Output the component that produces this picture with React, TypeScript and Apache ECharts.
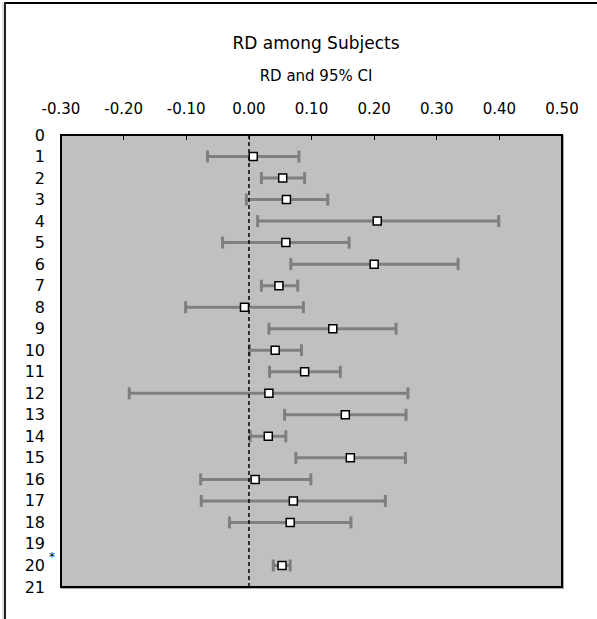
import React, { useEffect, useRef } from "react";
import * as echarts from "echarts";

const rows = [1, 2, 3, 4, 5, 6, 7, 8, 9, 10, 11, 12, 13, 14, 15, 16, 17, 18, 20];
const rd = [0.007, 0.054, 0.06, 0.205, 0.059, 0.2, 0.048, -0.007, 0.134, 0.042, 0.089, 0.032, 0.154, 0.031, 0.162, 0.01, 0.071, 0.066, 0.053];
const ciLow = [-0.066, 0.02, -0.004, 0.014, -0.042, 0.067, 0.02, -0.101, 0.032, 0.001, 0.033, -0.191, 0.057, 0.002, 0.075, -0.077, -0.076, -0.031, 0.039];
const ciHigh = [0.08, 0.089, 0.126, 0.399, 0.16, 0.334, 0.078, 0.087, 0.235, 0.084, 0.146, 0.254, 0.251, 0.059, 0.25, 0.099, 0.218, 0.163, 0.066];
const xTicks = { min: -0.3, max: 0.5, interval: 0.1 };
const yRange = { min: 0, max: 21 };
const titleText = "RD among Subjects";
const subtitleText = "RD and 95% CI";

const FONT = "DejaVu Sans";

export default function App() {
  const ref = useRef<HTMLDivElement>(null);
  useEffect(() => {
    if (!ref.current) return;
    const chart = echarts.init(ref.current, undefined, { renderer: "svg" });
    const ciData = rows.map((r, i) => [r, ciLow[i], ciHigh[i]]);
    const ptData = rows.map((r, i) => [rd[i], r]);
    chart.setOption({
      animation: false,
      backgroundColor: "#ffffff",
      textStyle: { fontFamily: FONT },
      title: [
        {
          text: titleText,
          left: 311,
          top: 29,
          textAlign: "center",
          textStyle: { fontFamily: FONT, fontSize: 17, fontWeight: "normal", color: "#000" },
        },
        {
          text: subtitleText,
          left: 311,
          top: 63,
          textAlign: "center",
          textStyle: { fontFamily: FONT, fontSize: 15, fontWeight: "normal", color: "#000" },
        },
      ],
      grid: {
        left: 61,
        top: 135,
        width: 501,
        height: 452,
        show: true,
        backgroundColor: "#c0c0c0",
        borderColor: "#000",
        borderWidth: 2,
        shadowColor: "rgba(0,0,0,0.35)",
        shadowOffsetX: 1,
        shadowOffsetY: 1,
        shadowBlur: 1,
      },
      xAxis: {
        type: "value",
        position: "top",
        min: xTicks.min,
        max: xTicks.max,
        interval: xTicks.interval,
        axisLine: { show: false },
        axisTick: { show: true, inside: true, length: 5, lineStyle: { color: "#000", width: 1 } },
        splitLine: { show: false },
        axisLabel: {
          margin: 19,
          fontSize: 15,
          fontFamily: FONT,
          color: "#000",
          formatter: (v: number) => v.toFixed(2),
        },
      },
      yAxis: {
        type: "value",
        inverse: true,
        min: yRange.min,
        max: yRange.max,
        interval: 1,
        axisLine: { show: false },
        axisTick: { show: false },
        splitLine: { show: false },
        axisLabel: {
          margin: 16,
          fontSize: 16,
          fontFamily: FONT,
          color: "#000",
          formatter: (v: number) => String(v),
        },
      },
      graphic: [
        { type: "line", shape: { x1: 4, y1: 3, x2: 597, y2: 3 }, style: { stroke: "#000", lineWidth: 2 } },
        { type: "line", shape: { x1: 3, y1: 3, x2: 3, y2: 619 }, style: { stroke: "#bbbbbb", lineWidth: 1 } },
        { type: "line", shape: { x1: 5, y1: 2, x2: 5, y2: 619 }, style: { stroke: "#222", lineWidth: 2 } },
        {
          type: "text",
          left: 49,
          top: 551,
          style: { text: "*", fontSize: 12, fontFamily: FONT, fill: "#000" },
        },
      ],
      series: [
        {
          type: "custom",
          data: ciData,
          encode: { x: [1, 2], y: 0 },
          z: 2,
          renderItem: (params: any, api: any) => {
            const row = api.value(0);
            const p1 = api.coord([api.value(1), row]);
            const p2 = api.coord([api.value(2), row]);
            const h = 6;
            const style = { stroke: "#7f7f7f", lineWidth: 3 };
            return {
              type: "group",
              children: [
                { type: "line", shape: { x1: p1[0], y1: p1[1], x2: p2[0], y2: p2[1] }, style },
                { type: "line", shape: { x1: p1[0], y1: p1[1] - h, x2: p1[0], y2: p1[1] + h }, style },
                { type: "line", shape: { x1: p2[0], y1: p2[1] - h, x2: p2[0], y2: p2[1] + h }, style },
              ],
            };
          },
        },
        {
          type: "scatter",
          data: ptData,
          symbol: "rect",
          symbolSize: 8,
          z: 4,
          itemStyle: { color: "#ffffff", borderColor: "#000", borderWidth: 1.5, opacity: 1 },
          markLine: {
            silent: true,
            symbol: ["none", "none"],
            label: { show: false },
            lineStyle: { color: "#000", type: [4, 3], width: 1.5 },
            data: [{ xAxis: 0 }],
            z: 3,
          },
        },
      ],
    });
    return () => chart.dispose();
  }, []);
  return (
    <div
      ref={ref}
      style={{ position: "absolute", left: 0, top: 0, width: 597, height: 619 }}
    />
  );
}
